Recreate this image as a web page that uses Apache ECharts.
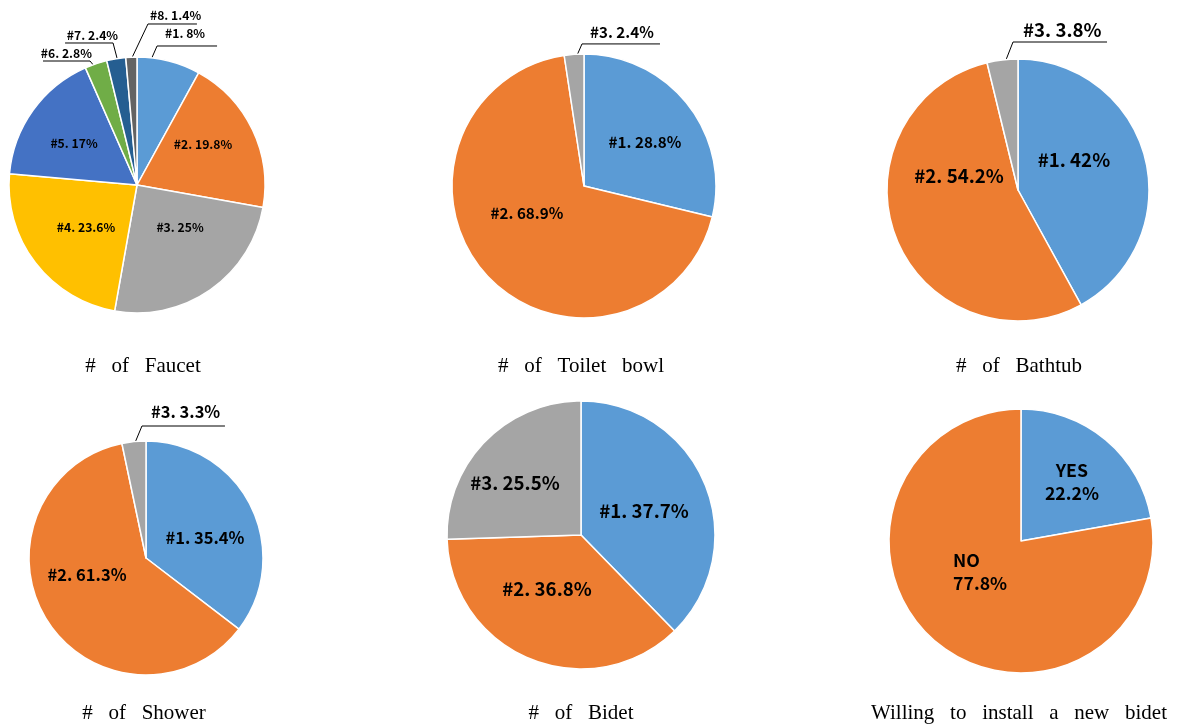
<!DOCTYPE html>
<html><head><meta charset="utf-8">
<script src="https://cdn.jsdelivr.net/npm/echarts@6/dist/echarts.min.js"></script>
<style>html,body{margin:0;padding:0;background:#fff}#c{width:1179px;height:724px}</style>
</head><body><div id="c"></div>
<script>
// ---- data ----
const faucetCats = ['#1', '#2', '#3', '#4', '#5', '#6', '#7', '#8'];
const faucetVals = [8, 19.8, 25, 23.6, 17, 2.8, 2.4, 1.4];
const toiletCats = ['#1', '#2', '#3'];
const toiletVals = [28.8, 68.9, 2.4];
const bathtubCats = ['#1', '#2', '#3'];
const bathtubVals = [42, 54.2, 3.8];
const showerCats = ['#1', '#2', '#3'];
const showerVals = [35.4, 61.3, 3.3];
const bidetCats = ['#1', '#2', '#3'];
const bidetVals = [37.7, 36.8, 25.5];
const willingCats = ['YES', 'NO'];
const willingVals = [22.2, 77.8];
const titles = ['# of Faucet', '# of Toilet bowl', '# of Bathtub', '# of Shower', '# of Bidet', 'Willing to install a new bidet'];

// ---- style / layout ----
const palette = ['#5B9BD5', '#ED7D31', '#A5A5A5', '#FFC000', '#4472C4', '#70AD47', '#255E91', '#636363'];
const panels = [
  { cats: faucetCats, vals: faucetVals, cx: 137, cy: 185, r: 128, fs: 12.2, tx: 143, ty: 356,
    inner: { 1: [0.516, -0.320], 2: [0.336, 0.328], 3: [-0.398, 0.328], 4: [-0.492, -0.328] },
    outer: {
      0: { s: [0.102, -0.961], b: [7, -16], h: 60, t: [8, -13] },
      7: { s: [-0.055, -0.961], b: [18, -38], h: 49, t: [2, -9] },
      6: { s: [-0.148, -0.961], b: [-5, -19], h: -48, t: [5, -8] },
      5: { s: [-0.289, -0.875], b: [-10, -12], h: -47, t: [2, -8] }
    } },
  { cats: toiletCats, vals: toiletVals, cx: 584, cy: 186, r: 132, fs: 15.2, tx: 581, ty: 356,
    inner: { 0: [0.462, -0.333], 1: [-0.432, 0.205] },
    outer: { 2: { s: [-0.091, -0.902], b: [10, -23], h: 78, t: [8, -12] } } },
  { cats: bathtubCats, vals: bathtubVals, cx: 1018, cy: 190, r: 131, fs: 18.7, tx: 1019, ty: 356,
    inner: { 0: [0.427, -0.229], 1: [-0.450, -0.107] },
    outer: { 2: { s: [-0.122, -0.916], b: [11, -28], h: 94, t: [10, -12] } } },
  { cats: showerCats, vals: showerVals, cx: 146, cy: 558, r: 117, fs: 16.5, tx: 144, ty: 703,
    inner: { 0: [0.504, -0.171], 1: [-0.504, 0.145] },
    outer: { 2: { s: [-0.120, -0.923], b: [10, -24], h: 83, t: [9, -14] } } },
  { cats: bidetCats, vals: bidetVals, cx: 581, cy: 535, r: 134, fs: 18.7, tx: 581, ty: 703,
    inner: { 0: [0.470, -0.179], 1: [-0.254, 0.403], 2: [-0.493, -0.388] },
    outer: {} },
  { cats: willingCats, vals: willingVals, cx: 1021, cy: 541, r: 132, fs: 17.7, tx: 1019, ty: 703,
    inner: { 0: [0.386, -0.447], 1: [-0.515, 0.235, 'left'] },
    outer: {} }
];

const labelFont = '"Noto Sans CJK KR", "Noto Sans", sans-serif';
const gap = ' \u2002';

function fmt(p) {
  if (p.name === 'YES' || p.name === 'NO') return p.name + '\n' + p.value + '%';
  return p.name + '. ' + p.value + '%';
}

function layoutFor(P) {
  return function (p) {
    const i = p.dataIndex;
    const o = P.outer[i];
    if (o) {
      const sx = P.cx + o.s[0] * P.r, sy = P.cy + o.s[1] * P.r;
      const bx = sx + o.b[0], by = sy + o.b[1];
      const ex = bx + o.h;
      return {
        x: bx + o.t[0], y: by + o.t[1],
        align: o.h > 0 ? 'left' : 'right', verticalAlign: 'middle',
        labelLinePoints: [[sx, sy], [bx, by], [ex, by]]
      };
    }
    const q = P.inner[i];
    return { x: P.cx + q[0] * P.r, y: P.cy + q[1] * P.r, align: q[2] || 'center', verticalAlign: 'middle' };
  };
}

const series = panels.map(function (P) {
  return {
    type: 'pie',
    center: [P.cx, P.cy],
    radius: [0, P.r],
    startAngle: 90,
    clockwise: true,
    avoidLabelOverlap: false,
    animation: false,
    itemStyle: { borderColor: '#ffffff', borderWidth: 1.5 },
    label: {
      show: true, position: 'inside', formatter: fmt,
      fontFamily: labelFont, fontWeight: 'bold', fontSize: P.fs,
      color: '#000', lineHeight: Math.round(P.fs * 1.3)
    },
    labelLine: { show: false, lineStyle: { color: '#000', width: 1 } },
    labelLayout: layoutFor(P),
    data: P.cats.map(function (c, i) {
      const item = { name: c, value: P.vals[i], itemStyle: { color: palette[i] } };
      if (P.outer[i]) {
        item.label = { position: 'outside' };
        item.labelLine = { show: true, smooth: false, length: 5, length2: 5, lineStyle: { color: '#000', width: 1 } };
      }
      return item;
    })
  };
});

const chart = echarts.init(document.getElementById('c'), null, { renderer: 'canvas' });
chart.setOption({
  backgroundColor: '#ffffff',
  animation: false,
  title: titles.map(function (t, i) {
    return {
      text: t.split(' ').join(gap),
      left: panels[i].tx, top: panels[i].ty,
      textAlign: 'center', padding: 0,
      textStyle: { fontFamily: '"Liberation Serif", serif', fontSize: 21, fontWeight: 'normal', color: '#000' }
    };
  }),
  series: series
});
</script>
</body></html>
